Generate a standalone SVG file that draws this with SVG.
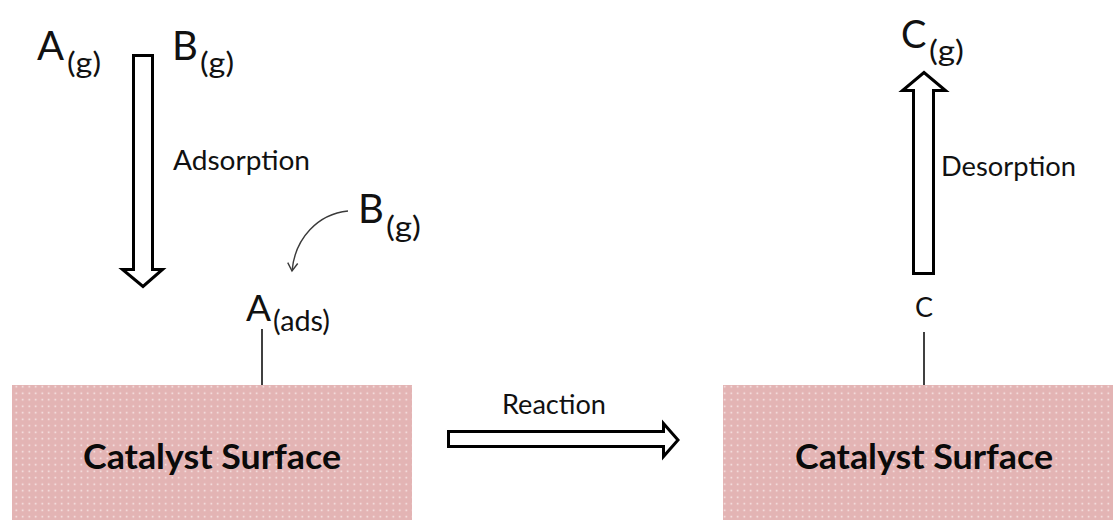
<svg xmlns="http://www.w3.org/2000/svg" width="1113" height="520" viewBox="0 0 1113 520">
  <style>
    .t { font-family: Lato, "Open Sans", "Liberation Sans", sans-serif; fill: #111; }
    .big { font-size: 40px; }
    .sub { font-size: 29px; }
    .lbl { font-size: 27px; }
    .cat { font-family: Lato, "Open Sans", "Liberation Sans", sans-serif; font-weight: bold; font-size: 35px; fill: #0a0a0a; }
    .block { fill: #fff; stroke: #000; stroke-width: 3; stroke-linejoin: miter; }
    .stick { stroke: #000; stroke-width: 1.5; fill: none; }
    .curve { stroke: #3a3a3a; stroke-width: 1.4; fill: none; }
  </style>
  <defs>
    <pattern id="dots" width="6.5" height="6.5" patternUnits="userSpaceOnUse">
      <rect width="6.5" height="6.5" fill="#e3b4b4"/>
      <rect x="2.5" y="2.5" width="1.5" height="1.5" fill="#fbf0f0"/>
    </pattern>
    <marker id="vhead" viewBox="0 0 12 12" refX="10" refY="6" markerWidth="12" markerHeight="12" markerUnits="userSpaceOnUse" orient="auto">
      <polyline points="2,1 10,6 2,11" fill="none" stroke="#3a3a3a" stroke-width="1.4"/>
    </marker>
  </defs>

  <g id="surface-left">
    <rect x="12" y="385" width="400" height="140" fill="url(#dots)"/>
    <text class="cat" x="212" y="469" text-anchor="middle" textLength="258" lengthAdjust="spacingAndGlyphs">Catalyst Surface</text>
  </g>

  <g id="surface-right">
    <rect x="723" y="385" width="400" height="140" fill="url(#dots)"/>
    <text class="cat" x="924" y="469" text-anchor="middle" textLength="258" lengthAdjust="spacingAndGlyphs">Catalyst Surface</text>
  </g>

  <g id="A-gas">
    <text class="t big" x="37" y="60">A</text>
    <text class="t sub" x="67" y="73" textLength="34" lengthAdjust="spacingAndGlyphs">(g)</text>
  </g>

  <g id="B-gas">
    <text class="t big" x="172" y="60">B</text>
    <text class="t sub" x="200" y="73" textLength="34" lengthAdjust="spacingAndGlyphs">(g)</text>
  </g>

  <g id="B-gas-2">
    <text class="t big" x="358" y="223">B</text>
    <text class="t sub" x="386" y="237" textLength="35" lengthAdjust="spacingAndGlyphs">(g)</text>
  </g>

  <g id="A-ads">
    <text class="t" font-size="37" x="246" y="321">A</text>
    <text class="t sub" x="273" y="331" textLength="57" lengthAdjust="spacingAndGlyphs">(ads)</text>
  </g>

  <g id="C-surface">
    <text class="t lbl" x="924" y="317" text-anchor="middle">C</text>
  </g>

  <g id="C-gas">
    <text class="t" font-size="38" x="901" y="48">C</text>
    <text class="t sub" x="929" y="61" textLength="35" lengthAdjust="spacingAndGlyphs">(g)</text>
  </g>

  <g id="connectors">
    <polygon id="adsorption-arrow" class="block" points="133.5,55.5 152.5,55.5 152.5,269.5 162.5,269.5 143,286.5 122.5,269.5 133.5,269.5"/>
    <text class="t lbl" x="173" y="170" textLength="137" lengthAdjust="spacingAndGlyphs">Adsorption</text>

    <polygon id="reaction-arrow" class="block" points="448.5,431.5 663.5,431.5 663.5,423.5 678,440 663.5,456.5 663.5,446.5 448.5,446.5"/>
    <text class="t lbl" x="502" y="414" textLength="104" lengthAdjust="spacingAndGlyphs">Reaction</text>

    <polygon id="desorption-arrow" class="block" points="913.5,273.5 913.5,90.5 902.5,90.5 924,72.5 945.5,90.5 933.5,90.5 933.5,273.5"/>
    <text class="t lbl" x="941" y="176" textLength="135" lengthAdjust="spacingAndGlyphs">Desorption</text>

    <path class="curve" d="M 348 211 C 318 214, 295 238, 292 271" marker-end="url(#vhead)"/>

    <line class="stick" x1="262" y1="329" x2="262" y2="385"/>
    <line class="stick" x1="924" y1="332" x2="924" y2="385"/>
  </g>
</svg>
